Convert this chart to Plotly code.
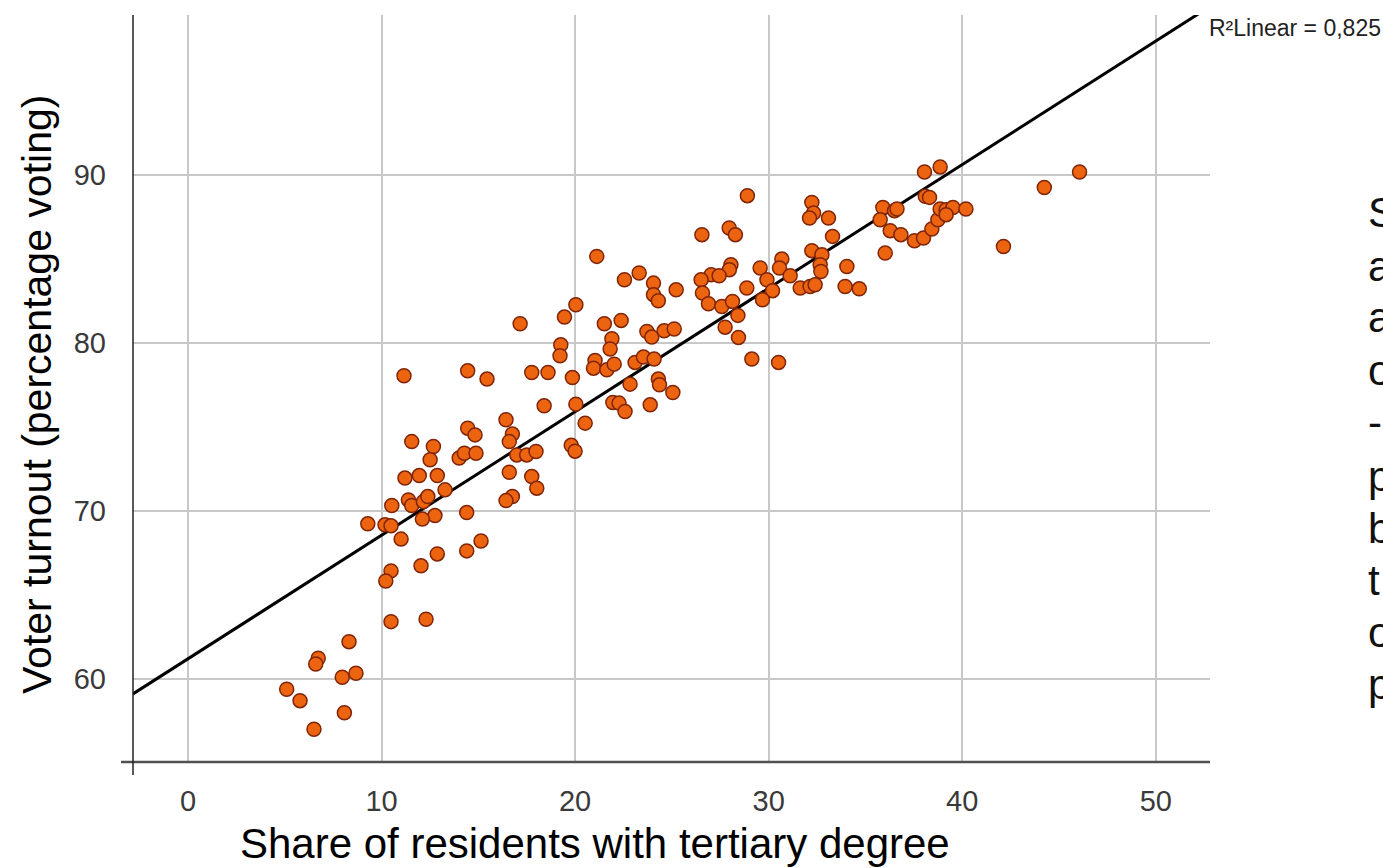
import plotly.graph_objects as go

# Share of residents with tertiary degree (%)
tertiary = [
    11.16, 14.45, 15.45, 17.76, 18.60, 18.40, 16.43, 14.45, 14.83, 16.76,
    16.60, 11.56, 12.68, 12.51, 14.01, 14.28, 14.88, 16.99, 17.50, 17.98,
    11.21, 11.95, 12.88, 16.60, 17.76, 18.02, 13.28, 11.39, 11.56, 12.16,
    12.39, 10.53, 16.76, 16.43, 14.40, 12.76, 12.11, 9.29, 10.18, 10.49,
    11.01, 12.88, 14.40, 15.14, 12.04, 10.49, 10.22, 10.49, 12.30, 8.32,
    6.73, 6.60, 7.97, 8.68, 5.10, 5.79, 8.08, 6.51,
    28.90, 32.23, 32.32, 32.11, 33.09, 26.55, 27.96, 28.28, 33.30, 21.12,
    32.23, 32.75, 30.68, 28.05, 27.97, 29.56, 30.56, 32.66, 32.70, 34.04,
    23.31, 22.55, 24.05, 27.03, 27.44, 26.51, 29.91, 31.11, 24.05, 24.30,
    25.22, 26.58, 28.87, 30.20, 31.63, 32.14, 32.40, 33.95, 26.89, 27.58,
    28.13, 29.68, 28.41, 20.04, 19.45, 17.16, 21.51, 22.38, 23.71, 23.96,
    24.60, 25.12, 27.75, 28.44, 21.90, 21.81, 19.26, 19.22, 29.13, 30.51,
    21.03, 20.95, 21.64, 22.02, 23.10, 23.53, 24.08, 19.86, 24.30, 24.36,
    25.05, 22.84, 20.04, 21.95, 22.27, 22.58, 23.88, 20.52, 19.80, 20.00,
    38.05, 38.86, 46.06, 44.24, 38.09, 38.31, 35.90, 36.50, 36.63, 35.76,
    36.28, 36.83, 37.53, 38.00, 38.43, 38.74, 38.86, 39.17, 39.52, 39.17,
    40.19, 36.02, 42.13, 34.68,
]

# Voter turnout (percentage voting)
turnout = [
    78.04, 78.33, 77.84, 78.23, 78.23, 76.25, 75.42, 74.92, 74.52, 74.57,
    74.12, 74.12, 73.83, 73.04, 73.14, 73.43, 73.43, 73.33, 73.33, 73.53,
    71.95, 72.10, 72.10, 72.30, 72.04, 71.35, 71.25, 70.65, 70.32, 70.55,
    70.85, 70.32, 70.85, 70.61, 69.90, 69.72, 69.51, 69.23, 69.17, 69.11,
    68.32, 67.44, 67.62, 68.21, 66.73, 66.43, 65.83, 63.41, 63.55, 62.22,
    61.23, 60.89, 60.10, 60.34, 59.39, 58.71, 57.99, 57.01,
    88.75, 88.35, 87.72, 87.42, 87.42, 86.43, 86.83, 86.43, 86.33, 85.14,
    85.48, 85.24, 84.98, 84.64, 84.35, 84.45, 84.45, 84.64, 84.24, 84.54,
    84.15, 83.75, 83.55, 84.05, 83.99, 83.75, 83.75, 83.99, 82.86, 82.50,
    83.15, 82.96, 83.26, 83.10, 83.26, 83.35, 83.45, 83.35, 82.32, 82.16,
    82.46, 82.56, 81.63, 82.26, 81.53, 81.13, 81.13, 81.33, 80.67, 80.34,
    80.71, 80.82, 80.93, 80.32, 80.24, 79.63, 79.88, 79.23, 79.03, 78.83,
    78.95, 78.49, 78.39, 78.73, 78.83, 79.15, 79.03, 77.93, 77.84, 77.50,
    77.04, 77.54, 76.35, 76.45, 76.41, 75.91, 76.31, 75.22, 73.90, 73.55,
    90.16, 90.46, 90.16, 89.24, 88.71, 88.65, 88.05, 87.86, 87.96, 87.32,
    86.67, 86.43, 86.07, 86.23, 86.77, 87.32, 87.96, 87.92, 88.05, 87.62,
    87.96, 85.34, 85.73, 83.21,
]

# Linear fit shown in the chart
fit_intercept = 61.2
fit_slope = 0.735
r2_label = "R²Linear = 0,825"

x_ticks = [0, 10, 20, 30, 40, 50]
y_ticks = [60, 70, 80, 90]
x_range = [-2.84, 52.8]
y_range = [55.06, 99.5]

x_title = "Share of residents with tertiary degree"
y_title = "Voter turnout (percentage voting)"
side_letters = ["S", "a", "a", "o", "-", "p", "b", "t", "o", "p"]

fit_x = [x_range[0], x_range[1]]
fit_y = [fit_intercept + fit_slope * v for v in fit_x]

fig = go.Figure()
fig.add_trace(go.Scatter(
    x=fit_x, y=fit_y, mode="lines",
    line=dict(color="black", width=3),
    hoverinfo="skip", showlegend=False,
))
fig.add_trace(go.Scatter(
    x=tertiary, y=turnout, mode="markers",
    marker=dict(size=14, color="rgb(236,100,16)",
                line=dict(color="rgb(128,36,8)", width=1.5)),
    showlegend=False,
))

W, H = 1383, 868
L, R, T, B = 133, 173, 15, 106
pw, ph = W - L - R, H - T - B

def px_x(p):
    return (p - L) / pw

def px_y(p):
    return 1 - (p - T) / ph

tick_font = dict(family="Liberation Sans, Arial", size=29, color="#3a3a3a")

fig.update_layout(
    width=W, height=H,
    margin=dict(l=L, r=R, t=T, b=B, pad=0),
    paper_bgcolor="white", plot_bgcolor="white",
    xaxis=dict(range=x_range, tickvals=x_ticks, showgrid=True,
               gridcolor="#c8c8c8", gridwidth=1.5, zeroline=False,
               showline=False, ticks="", tickfont=tick_font,
               ticklabelstandoff=19),
    yaxis=dict(range=y_range, tickvals=y_ticks, showgrid=True,
               gridcolor="#c8c8c8", gridwidth=1.5, zeroline=False,
               showline=False, ticks="", tickfont=tick_font,
               ticklabelstandoff=26),
    shapes=[
        dict(type="line", xref="paper", yref="paper",
             x0=px_x(121), x1=px_x(1210), y0=0, y1=0,
             line=dict(color="#505050", width=2.5)),
        dict(type="line", xref="paper", yref="paper",
             x0=0, x1=0, y0=px_y(775), y1=1,
             line=dict(color="#222222", width=1.5)),
    ],
)

annotations = [
    dict(text=x_title, xref="paper", yref="paper", x=px_x(595), y=px_y(843),
         xanchor="center", yanchor="middle", showarrow=False,
         font=dict(family="Liberation Sans, Arial", size=42, color="black")),
    dict(text=y_title, xref="paper", yref="paper", x=px_x(37), y=px_y(395),
         xanchor="center", yanchor="middle", showarrow=False, textangle=-90,
         font=dict(family="Liberation Sans, Arial", size=41, color="black")),
    dict(text=r2_label, xref="paper", yref="paper", x=px_x(1207), y=px_y(28),
         xanchor="left", yanchor="middle", showarrow=False,
         font=dict(family="Liberation Sans, Arial", size=23, color="#222222")),
]
side_y = [213, 266, 318, 370, 422, 476, 528, 580, 632, 684]
for letter, yy in zip(side_letters, side_y):
    annotations.append(dict(text=letter, xref="paper", yref="paper",
                            x=px_x(1366), y=px_y(yy), xanchor="left",
                            yanchor="middle", showarrow=False,
                            font=dict(family="Liberation Sans, Arial", size=42,
                                      color="#111111")))
fig.update_layout(annotations=annotations)

fig.write_html("out.html")
